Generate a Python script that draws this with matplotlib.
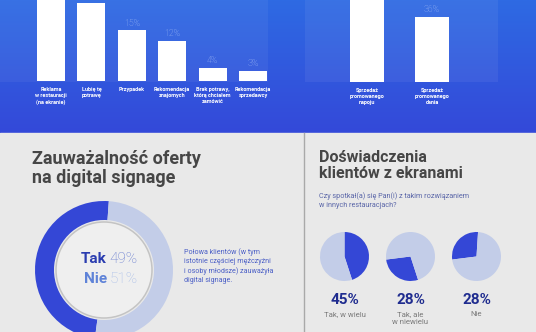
import numpy as np
import matplotlib
matplotlib.use("Agg")
import matplotlib.pyplot as plt
from matplotlib.patches import Rectangle, Circle
from matplotlib.colors import LinearSegmentedColormap

plt.rcParams['font.family'] = ['Roboto', 'DejaVu Sans']

# top left bar chart (share of answers, %)
reasons = ["Reklama\nw restauracji\n(na ekranie)", "Lubię tę\npotrawę", "Przypadek",
           "Rekomendacja\nznajomych", "Brak potrawy,\nktórą chciałem\nzamówić",
           "Rekomendacja\nsprzedawcy"]
reason_vals = [43, 23, 15, 12, 4, 3]

# top right bar chart (sales growth, %)
sales = ["Sprzedaż\npromowanego\nnapoju", "Sprzedaż\npromowanego\ndania"]
sales_vals = [53, 36]

# donut
notice_labels = ["Tak", "Nie"]
notice_vals = [49, 51]

# small pies
exp_labels = ["Tak, w wielu", "Tak, ale\nw niewielu", "Nie"]
exp_vals = [45, 28, 28]

DARK = "#3447d6"
LIGHT = "#c3cde8"
W, H = 536, 332

fig = plt.figure(figsize=(W / 100, H / 100), dpi=100)

# background axes in pixel units
bg = fig.add_axes([0, 0, 1, 1])
bg.set_xlim(0, W)
bg.set_ylim(H, 0)
bg.axis("off")

# blue gradient on top
grad = np.linspace(0, 1, 100).reshape(-1, 1)
cmap = LinearSegmentedColormap.from_list("g", ["#2e6ae3", "#3449d9"])
bg.imshow(grad, cmap=cmap, extent=[0, W, 133, 0], aspect="auto", zorder=0)
bg.add_patch(Rectangle((0, 133), W, H - 133, color="#e9e9e9", zorder=0))
bg.add_patch(Rectangle((0, 0), 268, 82, color="white", alpha=0.05, zorder=1, lw=0))
bg.add_patch(Rectangle((305, 0), 193, 82, color="white", alpha=0.06, zorder=1, lw=0))
bg.plot([304, 304], [133, H], color="#a9a9a9", lw=1, zorder=2)


def pos(x0, y0, x1, y1):
    return [x0 / W, 1 - y1 / H, (x1 - x0) / W, (y1 - y0) / H]


# left bar chart
ax1 = fig.add_axes(pos(30.8, 0, 273.2, 81))
x1 = np.arange(len(reasons))
ax1.bar(x1, reason_vals, width=0.69, color="white", zorder=2)
ax1.set_xlim(-0.5, len(reasons) - 0.5)
ax1.set_ylim(0, 24.0)
ax1.axis("off")
for i, v in enumerate(reason_vals):
    ax1.text(i, v + 0.8, f"{v}%", ha="center", va="bottom", color="#a3bcf5",
             fontsize=6.3, fontweight="light", clip_on=False)
    ax1.text(i, -1.9, reasons[i], ha="center", va="top", color="white",
             fontsize=4.0, fontweight="bold", linespacing=1.25, clip_on=False)

# right bar chart
ax2 = fig.add_axes(pos(302, 0, 497, 82))
x2 = np.arange(len(sales))
ax2.bar(x2, sales_vals, width=0.52, color="white", zorder=2)
ax2.set_xlim(-1, 2)
ax2.set_ylim(0, 45.5)
ax2.axis("off")
for i, v in enumerate(sales_vals):
    ax2.text(i, v + 1.8, f"{v}%", ha="center", va="bottom", color="#a3bcf5",
             fontsize=6.3, fontweight="light", clip_on=False)
    ax2.text(i, -3.6, sales[i], ha="center", va="top", color="white",
             fontsize=4.0, fontweight="bold", linespacing=1.25, clip_on=False)

# titles
bg.text(32, 183, "Zauważalność oferty\nna digital signage", ha="left", va="baseline",
        fontsize=13, fontweight="bold", color="#464646", linespacing=1.1)
bg.text(319, 178, "Doświadczenia\nklientów z ekranami", ha="left", va="baseline",
        fontsize=11.5, fontweight="bold", color="#464646", linespacing=1.1)
bg.text(319, 200.5, "Czy spotkał(a) się Pan(i) z takim rozwiązaniem\nw innych restauracjach?",
        ha="left", va="center", fontsize=5.2, color="#5a66a8", linespacing=1.45)

# donut
ax3 = fig.add_axes(pos(35, 201, 173, 339))
ax3.pie(notice_vals, colors=[DARK, LIGHT], startangle=86, counterclock=True,
        radius=1, wedgeprops=dict(width=19 / 69, lw=0))
ax3.set_xlim(-1, 1)
ax3.set_ylim(-1, 1)
ax3.set_aspect("equal")
ax3.axis("off")
ax3.add_patch(Circle((0, 0), 48 / 69, facecolor="#efefef", edgecolor="#c4c4c4", lw=1.1))
ax3.text(0.04, 0.16, notice_labels[0], ha="right", va="center", fontsize=11,
         fontweight="bold", color="#2b3db0")
ax3.text(0.08, 0.16, f"{notice_vals[0]}%", ha="left", va="center", fontsize=11,
         fontweight="light", color="#6479cf")
ax3.text(0.04, -0.13, notice_labels[1], ha="right", va="center", fontsize=11,
         fontweight="bold", color="#5f83d8")
ax3.text(0.08, -0.13, f"{notice_vals[1]}%", ha="left", va="center", fontsize=11,
         fontweight="light", color="#a7bce8")

bg.text(184, 266, "Połowa klientów (w tym\nistotnie częściej mężczyźni\ni osoby młodsze) zauważyła\ndigital signage.",
        ha="left", va="center", fontsize=5.1, color="#4a5ec6", linespacing=1.4)

# small pies, each slice continues where the previous one ended
cum = 0
for i, v in enumerate(exp_vals):
    cx = 344.5 + 66 * i
    ax = fig.add_axes(pos(cx - 24.5, 232, cx + 24.5, 281))
    ax.pie([v, 100 - v], colors=[DARK, LIGHT], startangle=90 - cum * 3.6,
           counterclock=False, wedgeprops=dict(lw=0))
    ax.set_xlim(-1, 1)
    ax.set_ylim(-1, 1)
    ax.set_aspect("equal")
    cum += v
    bg.text(cx, 300, f"{v}%", ha="center", va="center", fontsize=11,
            fontweight="bold", color="#1f2c8f")
    bg.text(cx, 311.5, exp_labels[i], ha="center", va="top", fontsize=5.6,
            color="#7a7a7a", linespacing=1.3)

fig.savefig("out.png", dpi=100)
